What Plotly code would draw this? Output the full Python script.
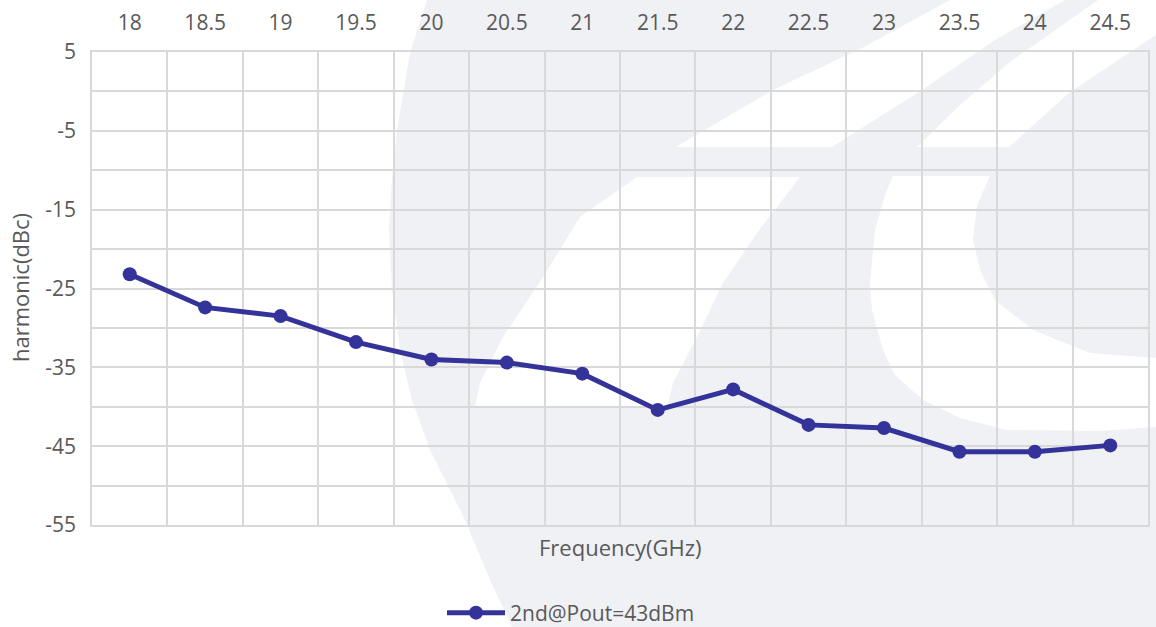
import plotly.graph_objects as go

# ---- data ----
freq_labels = ["18", "18.5", "19", "19.5", "20", "20.5", "21", "21.5",
               "22", "22.5", "23", "23.5", "24", "24.5"]
harmonic_dbc = [-23.2, -27.4, -28.5, -31.8, -34.0, -34.4, -35.8, -40.4,
                -37.8, -42.3, -42.7, -45.7, -45.7, -44.9]
series_name = "2nd@Pout=43dBm"
y_tick_vals = [-55, -45, -35, -25, -15, -5, 5]
y_tick_text = ["-55", "-45", "-35", "-25", "-15", "-5", "5"]

# ---- layout geometry ----
W, H = 1156, 627
ML, MR, MT, MB = 92, 8, 52, 102
PW, PH = W - ML - MR, H - MT - MB

def px(x):
    return (x - ML) / PW

def py(y):
    return (H - MB - y) / PH

def path(points):
    s = "M " + " L ".join(f"{px(a):.4f},{py(b):.4f}" for a, b in points)
    return s + " Z"

GREY = "rgb(240,241,245)"
WHITE = "#FFFFFF"

# watermark (decorative background logo)
wm_grey = [(427, 0), (410, 53), (397, 130), (392, 180), (389, 230), (392, 290),
           (400, 350), (412, 400), (430, 450), (465, 520), (490, 580), (512, 627),
           (1156, 627), (1156, 0)]
wm_band_a = [(676, 147), (832, 147), (925, 88), (995, 40), (1065, 0),
             (950, 0), (864, 47), (773, 90)]
wm_band_b = [(917, 147), (1009, 147), (1070, 92), (1156, 35), (1156, 0),
             (1098, 0), (1010, 62), (960, 105)]
wm_para = [(637, 177), (800, 177), (757, 233), (723, 283), (697, 337),
           (673, 383), (667, 407), (475, 407), (480, 383), (503, 337),
           (543, 277), (580, 217)]
wm_c = [(893, 176), (990, 176), (977, 205), (973, 240), (980, 270),
        (995, 300), (1033, 330), (1090, 353), (1156, 358), (1156, 427),
        (1100, 431), (1007, 430), (960, 418), (923, 400), (895, 375),
        (883, 350), (872, 310), (870, 283), (875, 230), (885, 195)]

shapes = [dict(type="path", path=path(wm_grey), fillcolor=GREY, line=dict(width=0),
               xref="paper", yref="paper", layer="below")]
for poly in (wm_band_a, wm_band_b, wm_para, wm_c):
    shapes.append(dict(type="path", path=path(poly), fillcolor=WHITE, line=dict(width=0),
                       xref="paper", yref="paper", layer="below"))

FONT = "Open Sans"
TXT = "#595959"
GRID = "#D9D9D9"
LINE = "#333399"

fig = go.Figure()
fig.add_trace(go.Scatter(
    x=freq_labels, y=harmonic_dbc, name=series_name, mode="lines+markers",
    line=dict(color=LINE, width=5),
    marker=dict(color=LINE, size=14),
))

fig.update_layout(
    width=W, height=H,
    margin=dict(l=ML, r=MR, t=MT, b=MB, autoexpand=False),
    paper_bgcolor=WHITE, plot_bgcolor="rgba(0,0,0,0)",
    font=dict(family=FONT, size=21, color=TXT),
    showlegend=True,
    legend=dict(orientation="h", x=px(442), xanchor="left", y=py(613), yanchor="middle",
                itemwidth=58,
                font=dict(family=FONT, size=21, color=TXT), bgcolor="rgba(0,0,0,0)"),
    shapes=shapes,
    annotations=[
        dict(text="Frequency(GHz)", x=px(620), y=py(547), xref="paper", yref="paper",
             showarrow=False, xanchor="center", yanchor="middle",
             font=dict(family=FONT, size=22, color=TXT)),
        dict(text="harmonic(dBc)", x=px(20), y=py(288), xref="paper", yref="paper",
             showarrow=False, xanchor="center", yanchor="middle", textangle=-90,
             font=dict(family=FONT, size=22, color=TXT)),
    ],
)

fig.update_xaxes(
    type="category", side="top", tickson="boundaries", range=[-0.5, 13.5],
    showgrid=True, gridcolor=GRID, gridwidth=1.5,
    showline=True, linecolor=GRID, linewidth=1.5, mirror=True,
    ticks="", ticklen=0, ticklabelstandoff=12,
    tickfont=dict(family=FONT, size=21, color=TXT),
    zeroline=False, fixedrange=True, automargin=False,
)
fig.update_yaxes(
    range=[-55, 5], tickmode="array", tickvals=y_tick_vals, ticktext=y_tick_text,
    showgrid=True, gridcolor=GRID, gridwidth=1.5,
    minor=dict(dtick=5, tick0=-55, showgrid=True, gridcolor=GRID, gridwidth=1.5),
    showline=True, linecolor=GRID, linewidth=1.5, mirror=True,
    ticks="", ticklabelstandoff=10,
    tickfont=dict(family=FONT, size=21, color=TXT),
    zeroline=False, fixedrange=True, automargin=False,
)

fig.write_html("out.html", config={"displayModeBar": False},
               post_script="document.body.style.margin='0px';document.body.style.padding='0px';")
